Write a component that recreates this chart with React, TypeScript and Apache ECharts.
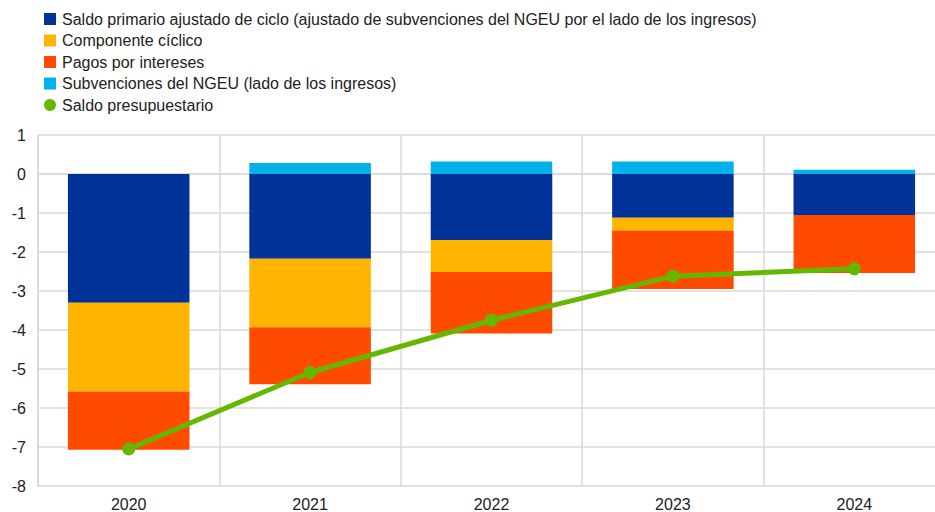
import React, { useEffect, useRef } from "react";
import * as echarts from "echarts";

const categories = ["2020", "2021", "2022", "2023", "2024"];
const saldoPrimario = [-3.3, -2.17, -1.69, -1.12, -1.05];
const componenteCiclico = [-2.28, -1.76, -0.82, -0.33, 0];
const pagosIntereses = [-1.49, -1.46, -1.58, -1.5, -1.49];
const subvencionesNGEU = [0, 0.28, 0.32, 0.32, 0.11];
const saldoPresupuestario = [-7.05, -5.09, -3.75, -2.62, -2.43];

const names = [
  "Saldo primario ajustado de ciclo (ajustado de subvenciones del NGEU por el lado de los ingresos)",
  "Componente cíclico",
  "Pagos por intereses",
  "Subvenciones del NGEU (lado de los ingresos)",
  "Saldo presupuestario",
];
const colors = ["#003299", "#ffb400", "#ff4b00", "#00b1ea", "#65b800"];

export default function App() {
  const ref = useRef<HTMLDivElement>(null);
  useEffect(() => {
    if (!ref.current) return;
    const chart = echarts.init(ref.current, null, { renderer: "svg" });
    const font = "Liberation Sans, Arial, sans-serif";
    const barSeries = [saldoPrimario, componenteCiclico, pagosIntereses, subvencionesNGEU].map(
      (d, i) => ({
        name: names[i],
        type: "bar",
        stack: "total",
        data: d,
        barWidth: "67%",
        itemStyle: { color: colors[i] },
      })
    );
    chart.setOption({
      animation: false,
      textStyle: { fontFamily: font },
      legend: {
        orient: "vertical",
        left: 39,
        top: 6,
        itemWidth: 12,
        itemHeight: 12,
        itemGap: 5.5,
        textStyle: { fontSize: 16, color: "#222", fontFamily: font, padding: [0, 0, 0, 1], lineHeight: 16 },
        data: names.map((n, i) => ({ name: n, icon: i === 4 ? "circle" : "rect" })),
      },
      grid: { left: 38, top: 135, right: 0, height: 352, containLabel: false },
      xAxis: {
        type: "category",
        data: categories,
        axisLine: { show: true, lineStyle: { color: "#d9d9d9", width: 1.5 } },
        axisTick: { show: false },
        axisLabel: { color: "#222", fontSize: 16, margin: 10, fontFamily: font },
        splitLine: { show: true, lineStyle: { color: "#d9d9d9", width: 1.5 } },
      },
      yAxis: {
        type: "value",
        min: -8,
        max: 1,
        interval: 1,
        axisLine: { show: true, lineStyle: { color: "#d9d9d9", width: 1.5 } },
        axisTick: { show: false },
        axisLabel: { color: "#222", fontSize: 16, margin: 12, fontFamily: font },
        splitLine: { show: true, lineStyle: { color: "#d9d9d9", width: 1.5 } },
      },
      series: [
        ...barSeries,
        {
          name: names[4],
          type: "line",
          data: saldoPresupuestario,
          symbol: "circle",
          symbolSize: 13,
          lineStyle: { color: colors[4], width: 5 },
          itemStyle: { color: colors[4] },
          z: 5,
        },
      ],
    });
    return () => chart.dispose();
  }, []);
  return (
    <div
      style={{ position: "fixed", left: 0, top: 0, width: 935, height: 512, overflow: "hidden", background: "#fff" }}
    >
      <div ref={ref} style={{ width: 945, height: 512 }} />
    </div>
  );
}
